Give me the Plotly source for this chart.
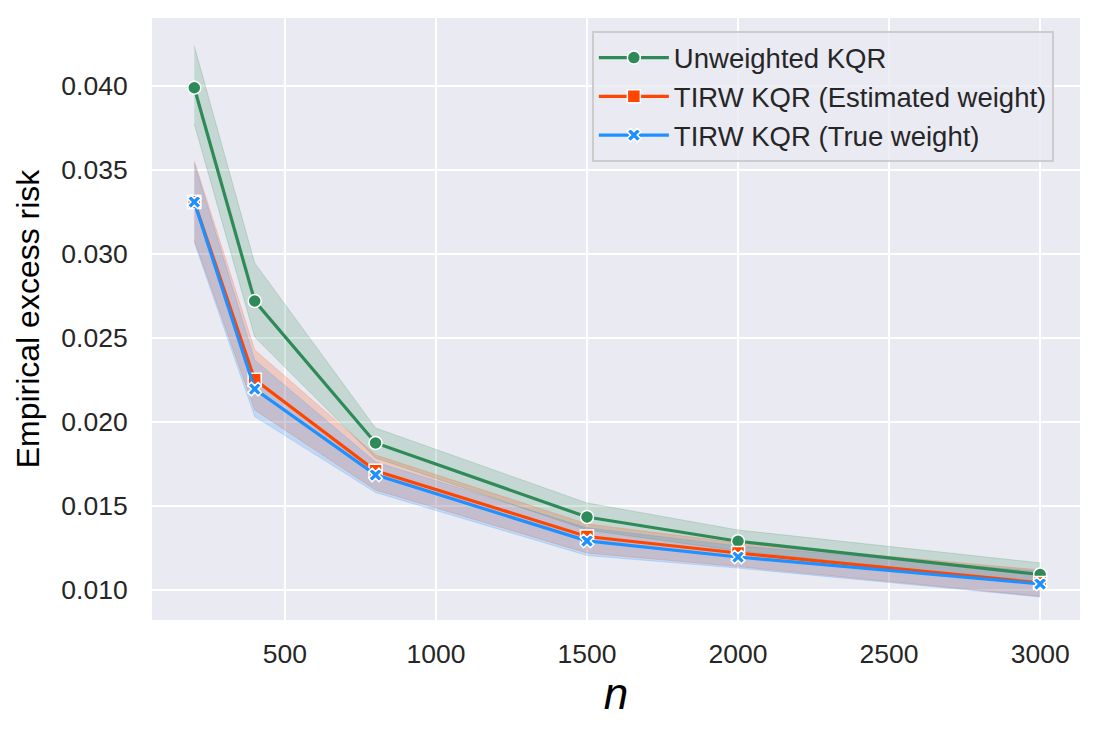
import plotly.graph_objects as go

# sample sizes
n_values = [200, 400, 800, 1500, 2000, 3000]

# mean empirical excess risk per method
unweighted = [0.0399, 0.0272, 0.01875, 0.01434, 0.01290, 0.01092]
tirw_est = [0.0331, 0.02252, 0.01710, 0.01318, 0.01220, 0.01042]
tirw_true = [0.0331, 0.02196, 0.01685, 0.01292, 0.01196, 0.01036]

# confidence band bounds
unweighted_lo = [0.03774, 0.02506, 0.01786, 0.01357, 0.01232, 0.01042]
unweighted_hi = [0.04238, 0.02946, 0.01964, 0.01518, 0.01357, 0.01161]
tirw_est_lo = [0.03083, 0.02071, 0.01595, 0.01220, 0.01139, 0.00962]
tirw_est_hi = [0.03554, 0.02429, 0.01804, 0.01393, 0.01280, 0.01119]
tirw_true_lo = [0.03070, 0.02032, 0.01580, 0.01205, 0.01130, 0.00958]
tirw_true_hi = [0.03540, 0.02369, 0.01762, 0.01370, 0.01262, 0.01110]

series = [
    ("Unweighted KQR", unweighted, unweighted_lo, unweighted_hi, "#2E8B57", "46,139,87", "circle"),
    ("TIRW KQR (Estimated weight)", tirw_est, tirw_est_lo, tirw_est_hi, "#FF4500", "255,69,0", "square"),
    ("TIRW KQR (True weight)", tirw_true, tirw_true_lo, tirw_true_hi, "#1E90FF", "30,144,255", "x"),
]

fig = go.Figure()

# bands first so that all lines sit on top
for name, mean, lo, hi, color, rgb, symbol in series:
    fig.add_trace(go.Scatter(
        x=n_values, y=lo, mode="lines",
        line=dict(color=f"rgba({rgb},0.2)", width=1),
        showlegend=False, hoverinfo="skip",
    ))
    fig.add_trace(go.Scatter(
        x=n_values, y=hi, mode="lines",
        line=dict(color=f"rgba({rgb},0.2)", width=1),
        fill="tonexty", fillcolor=f"rgba({rgb},0.2)",
        showlegend=False, hoverinfo="skip",
    ))

for name, mean, lo, hi, color, rgb, symbol in series:
    fig.add_trace(go.Scatter(
        x=n_values, y=mean, mode="lines+markers", name=name,
        line=dict(color=color, width=3.2),
        marker=dict(symbol=symbol, size=13 if symbol != "x" else 12, color=color,
                    line=dict(color="white", width=1.5)),
    ))

# page body has an 8px margin, so margins are shifted to compensate
fig.update_layout(
    width=1101, height=738,
    margin=dict(l=144, r=29, t=10, b=126),
    paper_bgcolor="white",
    plot_bgcolor="#EAEAF2",
    font=dict(family="Liberation Sans, Arial, sans-serif", size=26.5, color="#262626"),
    legend=dict(
        x=0.474, y=0.978, xanchor="left", yanchor="top",
        bgcolor="rgba(234,234,242,0.8)",
        bordercolor="#CCCCCC", borderwidth=2,
        font=dict(size=27.5),
        traceorder="normal",
        tracegroupgap=0,
        itemwidth=70,
    ),
)
fig.update_xaxes(
    range=[60, 3132],
    tickvals=[500, 1000, 1500, 2000, 2500, 3000],
    showgrid=True, gridcolor="white", gridwidth=1.5,
    zeroline=False, showline=False,
    ticks="outside", ticklen=10, tickcolor="rgba(0,0,0,0)",
    title=dict(text="<i>n</i>", font=dict(size=44, color="black"), standoff=7),
)
fig.update_yaxes(
    range=[0.00821, 0.04405],
    tickvals=[0.010, 0.015, 0.020, 0.025, 0.030, 0.035, 0.040],
    tickformat=".3f",
    showgrid=True, gridcolor="white", gridwidth=1.5,
    zeroline=False, showline=False,
    ticks="outside", ticklen=18, tickcolor="rgba(0,0,0,0)",
    title=dict(text="Empirical excess risk", font=dict(size=32, color="black"), standoff=12),
)

fig.write_html("out.html")
